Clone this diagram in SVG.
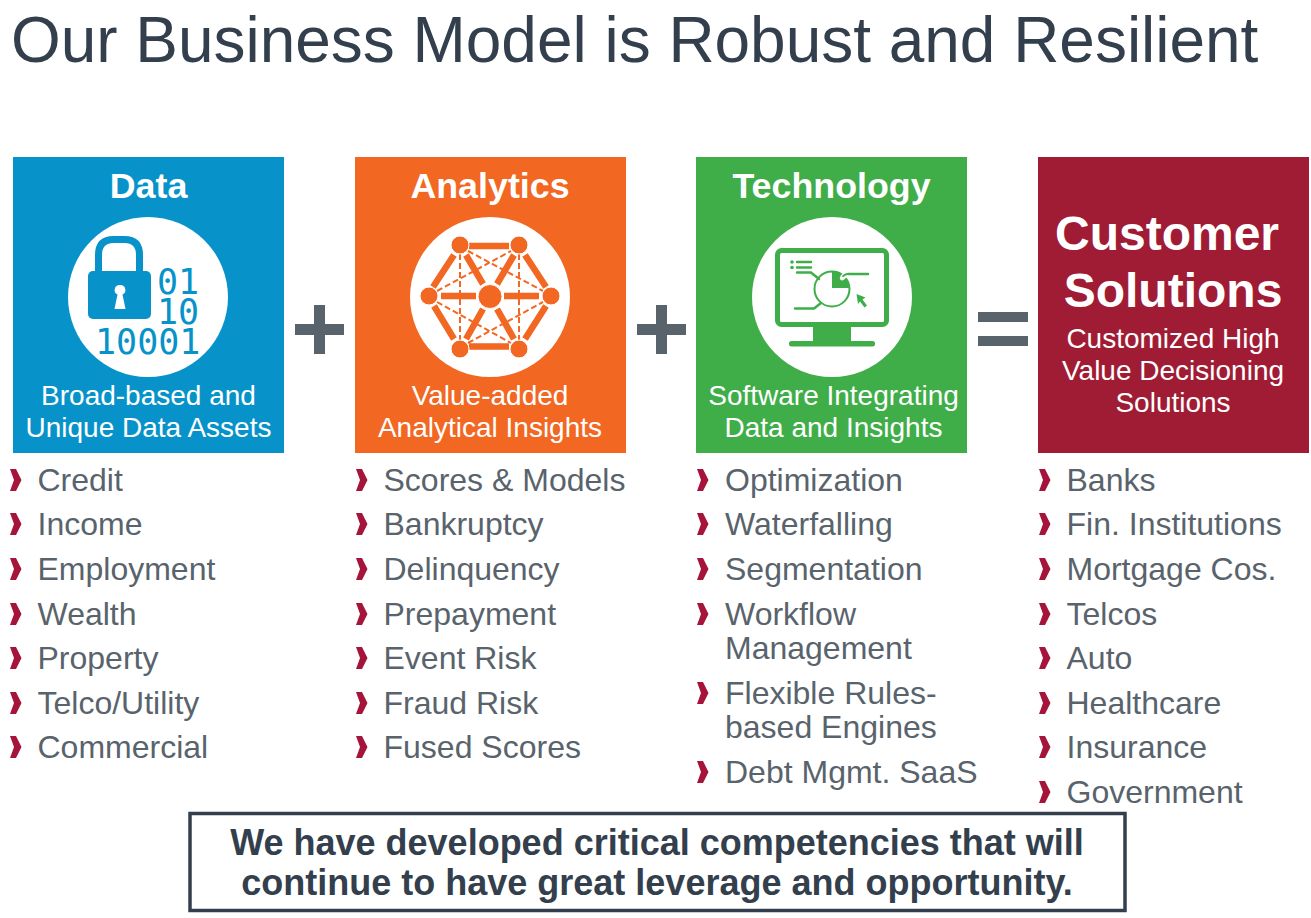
<svg xmlns="http://www.w3.org/2000/svg" width="1311" height="918" viewBox="0 0 1311 918">
<style>
text{font-family:"Liberation Sans",Arial,sans-serif}
.h{font-size:35.800px;font-weight:700;fill:#fff;text-anchor:middle}
.s{font-size:28px;fill:#fff;text-anchor:middle}
.l{font-size:32px;fill:#59636c}
.b{font-family:"DejaVu Sans Mono",monospace;font-size:35px;fill:#0793c9}
.o{fill:#59636c}
.ds{stroke:#f26722;stroke-width:2;stroke-dasharray:6 3;fill:none}
.so{stroke:#f26722;stroke-width:6.500;fill:none}
.nd{fill:#f26722;stroke:#fff;stroke-width:1}
.gl{stroke:#3fae49;fill:none;stroke-width:2.500;stroke-linecap:round}
</style>
<defs><path id="c" d="M0-2h6l5.500 11-5.500 11h-6l4-11z" fill="#a5143a"/></defs>
<text id="title" x="11" y="62" font-size="63.950" fill="#333f4d">Our Business Model is Robust and Resilient</text>

<g id="data">
<rect x="13" y="157" width="271" height="296" fill="#0793c9"/>
<text class="h" x="148.500" y="198">Data</text>
<circle cx="148" cy="297" r="80" fill="#fff"/>
<rect x="88" y="271" width="63" height="48" rx="5" fill="#0793c9"/>
<path d="M98.500 273V255q0-15.500 15-15.500h11q15 0 15 15.500v18" fill="none" stroke="#0793c9" stroke-width="7"/>
<path d="M120 285a5 5 0 0 1 2.500 9.500l3 14.500h-11l3-14.500a5 5 0 0 1 2.500-9.500z" fill="#fff"/>
<text class="b"><tspan x="157" y="294">01</tspan><tspan x="157" y="324">10</tspan><tspan x="95" y="354">10001</tspan></text>
<text class="s" x="148.500" y="405">Broad-based and</text>
<text class="s" x="148.500" y="437">Unique Data Assets</text>
</g>

<g id="plus1" class="o"><rect x="295" y="324" width="49" height="11"/><rect x="314" y="305" width="11" height="49"/></g>

<g id="analytics">
<rect x="355" y="157" width="271" height="296" fill="#f26722"/>
<text class="h" x="490" y="198">Analytics</text>
<circle cx="490" cy="297" r="80" fill="#fff"/>
<path class="so" d="M469 246H509M469 346.500H509M441 296H476M504 296H539M454 255L433 287M466 255L483 284M514 255L497 284M525 255L546 287M434 306L454 339M546 306L525 339M483 309L466 339M497 309L514 339"/>
<path class="ds" d="M460 254V340M519 254V340M437 291L511 251M468 251L543 291M437 302L511 343M468 343L543 302"/>
<circle class="nd" cx="490" cy="296.500" r="12"/>
<circle class="nd" cx="460" cy="245" r="9"/><circle class="nd" cx="519" cy="245" r="9"/>
<circle class="nd" cx="429" cy="296" r="9"/><circle class="nd" cx="551" cy="296" r="9"/>
<circle class="nd" cx="460" cy="349" r="9"/><circle class="nd" cx="519" cy="349" r="9"/>
<text class="s" x="490" y="405">Value-added</text>
<text class="s" x="490" y="437">Analytical Insights</text>
</g>

<g id="plus2" class="o"><rect x="637" y="324" width="49" height="11"/><rect x="656" y="305" width="11" height="49"/></g>

<g id="technology">
<rect x="696" y="157" width="271" height="296" fill="#3fae49"/>
<text class="h" x="831.500" y="198">Technology</text>
<circle cx="832" cy="297" r="80" fill="#fff"/>
<rect x="777.500" y="250.500" width="109" height="74" rx="4" fill="none" stroke="#3fae49" stroke-width="5"/>
<rect x="813" y="327" width="38" height="14" fill="#3fae49"/>
<rect x="789" y="341" width="86" height="5.500" rx="2.500" fill="#3fae49"/>
<circle cx="792" cy="262" r="1.800" fill="#3fae49"/><circle cx="792" cy="267.500" r="1.800" fill="#3fae49"/>
<path class="gl" d="M797 262H811M797 267.500H811M797 272.500H811L819 279M795 308.500H814L821 303M848 274H868"/>
<circle cx="832" cy="289" r="17.500" fill="none" stroke="#3fae49" stroke-width="2"/>
<path d="M832 288V271a17 17 0 0 1 17 17z" fill="#3fae49"/>
<path d="M842 279q1-4 6-5" stroke="#fff" stroke-width="5" fill="none"/>
<path d="M842 278q2-4 6-4" stroke="#3fae49" stroke-width="2" fill="none"/>
<circle cx="842" cy="278.500" r="2" fill="#fff"/>
<path d="M856.500 294l9 3.500-3 2 4.500 6-2.500 2-4.500-6-2 2.500z" fill="#3fae49"/>
<text class="s" x="833.500" y="405">Software Integrating</text>
<text class="s" x="833.500" y="437">Data and Insights</text>
</g>

<g id="equals" class="o"><rect x="978" y="312" width="50" height="10"/><rect x="978" y="336" width="50" height="10"/></g>

<g id="customer">
<rect x="1038" y="157" width="271" height="296" fill="#a01c34"/>
<text x="1167" y="250" font-size="48" font-weight="700" fill="#fff" text-anchor="middle">Customer</text>
<text x="1173" y="307" font-size="48" font-weight="700" fill="#fff" text-anchor="middle">Solutions</text>
<text class="s" x="1173" y="348">Customized High</text>
<text class="s" x="1173" y="380">Value Decisioning</text>
<text class="s" x="1173" y="412">Solutions</text>
</g>

<g id="list-data">
<use href="#c" x="10" y="471"/><text class="l" x="37.500" y="491">Credit</text>
<use href="#c" x="10" y="515"/><text class="l" x="37.500" y="535">Income</text>
<use href="#c" x="10" y="560"/><text class="l" x="37.500" y="580">Employment</text>
<use href="#c" x="10" y="605"/><text class="l" x="37.500" y="625">Wealth</text>
<use href="#c" x="10" y="649"/><text class="l" x="37.500" y="669">Property</text>
<use href="#c" x="10" y="694"/><text class="l" x="37.500" y="714">Telco/Utility</text>
<use href="#c" x="10" y="738"/><text class="l" x="37.500" y="758">Commercial</text>
</g>
<g id="list-analytics">
<use href="#c" x="356" y="471"/><text class="l" x="383.500" y="491">Scores &amp; Models</text>
<use href="#c" x="356" y="515"/><text class="l" x="383.500" y="535">Bankruptcy</text>
<use href="#c" x="356" y="560"/><text class="l" x="383.500" y="580">Delinquency</text>
<use href="#c" x="356" y="605"/><text class="l" x="383.500" y="625">Prepayment</text>
<use href="#c" x="356" y="649"/><text class="l" x="383.500" y="669">Event Risk</text>
<use href="#c" x="356" y="694"/><text class="l" x="383.500" y="714">Fraud Risk</text>
<use href="#c" x="356" y="738"/><text class="l" x="383.500" y="758">Fused Scores</text>
</g>
<g id="list-technology">
<use href="#c" x="697" y="471"/><text class="l" x="725" y="491">Optimization</text>
<use href="#c" x="697" y="515"/><text class="l" x="725" y="535">Waterfalling</text>
<use href="#c" x="697" y="560"/><text class="l" x="725" y="580">Segmentation</text>
<use href="#c" x="697" y="605"/><text class="l" x="725" y="625">Workflow</text>
<text class="l" x="725" y="659">Management</text>
<use href="#c" x="697" y="684"/><text class="l" x="725" y="704">Flexible Rules-</text>
<text class="l" x="725" y="738">based Engines</text>
<use href="#c" x="697" y="763"/><text class="l" x="725" y="783">Debt Mgmt. SaaS</text>
</g>
<g id="list-customer">
<use href="#c" x="1039" y="471"/><text class="l" x="1066.500" y="491">Banks</text>
<use href="#c" x="1039" y="515"/><text class="l" x="1066.500" y="535">Fin. Institutions</text>
<use href="#c" x="1039" y="560"/><text class="l" x="1066.500" y="580">Mortgage Cos.</text>
<use href="#c" x="1039" y="605"/><text class="l" x="1066.500" y="625">Telcos</text>
<use href="#c" x="1039" y="649"/><text class="l" x="1066.500" y="669">Auto</text>
<use href="#c" x="1039" y="694"/><text class="l" x="1066.500" y="714">Healthcare</text>
<use href="#c" x="1039" y="738"/><text class="l" x="1066.500" y="758">Insurance</text>
<use href="#c" x="1039" y="783"/><text class="l" x="1066.500" y="803">Government</text>
</g>

<g id="callout">
<rect x="190" y="813.500" width="935" height="97" fill="#fff" stroke="#333f4d" stroke-width="3.500"/>
<text x="657" y="854.500" font-size="36" font-weight="700" fill="#333f4d" text-anchor="middle">We have developed critical competencies that will</text>
<text x="657" y="895" font-size="36" font-weight="700" fill="#333f4d" text-anchor="middle">continue to have great leverage and opportunity.</text>
</g>
</svg>
